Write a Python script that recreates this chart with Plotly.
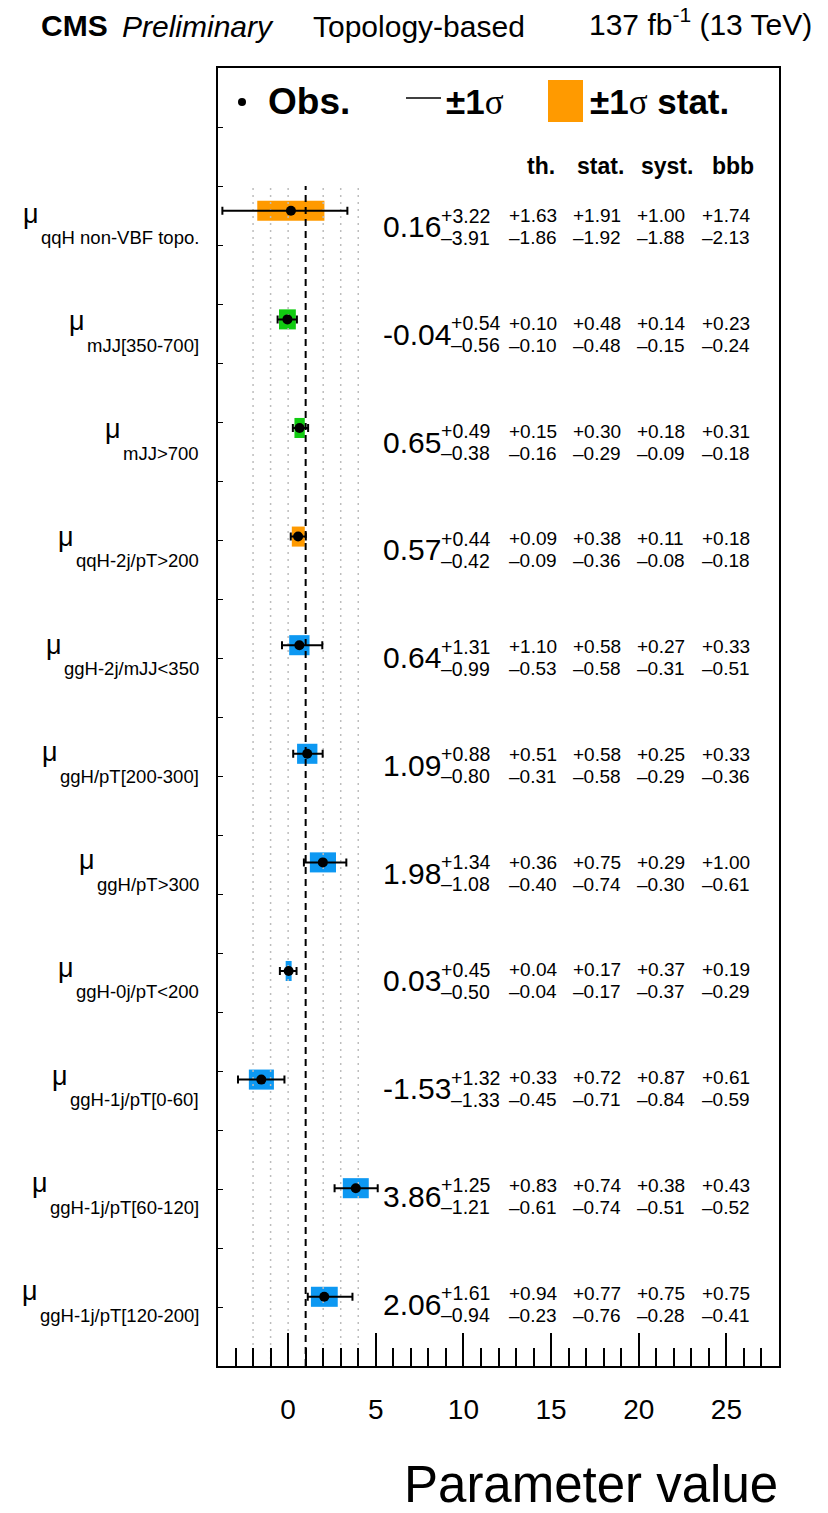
import plotly.graph_objects as go

# ---------------------------------------------------------------- data
labels = [
    "qqH non-VBF topo.", "mJJ[350-700]", "mJJ>700", "qqH-2j/pT>200",
    "ggH-2j/mJJ<350", "ggH/pT[200-300]", "ggH/pT>300", "ggH-0j/pT<200",
    "ggH-1j/pT[0-60]", "ggH-1j/pT[60-120]", "ggH-1j/pT[120-200]",
]
best = [0.16, -0.04, 0.65, 0.57, 0.64, 1.09, 1.98, 0.03, -1.53, 3.86, 2.06]
tot_hi = [3.22, 0.54, 0.49, 0.44, 1.31, 0.88, 1.34, 0.45, 1.32, 1.25, 1.61]
tot_lo = [3.91, 0.56, 0.38, 0.42, 0.99, 0.80, 1.08, 0.50, 1.33, 1.21, 0.94]
th_hi = [1.63, 0.10, 0.15, 0.09, 1.10, 0.51, 0.36, 0.04, 0.33, 0.83, 0.94]
th_lo = [1.86, 0.10, 0.16, 0.09, 0.53, 0.31, 0.40, 0.04, 0.45, 0.61, 0.23]
stat_hi = [1.91, 0.48, 0.30, 0.38, 0.58, 0.58, 0.75, 0.17, 0.72, 0.74, 0.77]
stat_lo = [1.92, 0.48, 0.29, 0.36, 0.58, 0.58, 0.74, 0.17, 0.71, 0.74, 0.76]
syst_hi = [1.00, 0.14, 0.18, 0.11, 0.27, 0.25, 0.29, 0.37, 0.87, 0.38, 0.75]
syst_lo = [1.88, 0.15, 0.09, 0.08, 0.31, 0.29, 0.30, 0.37, 0.84, 0.51, 0.28]
bbb_hi = [1.74, 0.23, 0.31, 0.18, 0.33, 0.33, 1.00, 0.19, 0.61, 0.43, 0.75]
bbb_lo = [2.13, 0.24, 0.18, 0.18, 0.51, 0.36, 0.61, 0.29, 0.59, 0.52, 0.41]
production = ["qqH", "VBF", "VBF", "qqH", "ggH", "ggH", "ggH",
              "ggH", "ggH", "ggH", "ggH"]
column_heads = ["th.", "stat.", "syst.", "bbb"]
x_ticks = [0, 5, 10, 15, 20, 25]
grid_values = [-2, -1, 0, 2, 3, 4]
sm_value = 1

colour_of = {"qqH": "#ff9a00", "VBF": "#11cc11", "ggH": "#0d98f2"}

# ---------------------------------------------------------------- geometry
W, H = 828, 1513
L, R, T, B = 218, 49, 68, 147
PW, PH = W - L - R, H - T - B
Y_RANGE = 22.0

FONT = "Liberation Sans, Arial, Helvetica, sans-serif"
SERIF = "Liberation Serif, Times New Roman, serif"

# Arial / Helvetica advance widths (per 1000 em)
ADV = {c: 556 for c in "0123456789"}
ADV.update({".": 278, "-": 333, "+": 584, "\u2013": 556, " ": 278, "[": 278,
            "]": 278, "/": 278, "<": 584, ">": 584, "m": 833, "J": 500,
            "q": 556, "g": 556, "H": 722, "j": 222, "p": 556, "T": 611,
            "n": 556, "o": 556, "V": 667, "B": 667, "F": 611, "t": 278})


def text_width(s, size):
    return sum(ADV.get(c, 556) for c in s) * size / 1000.0


def xp(px):
    return (px - L) / PW


def yp(py):
    return (T + PH - py) / PH


n = len(labels)
# marker rows (y data units) and text rows (pixel centres)
y_rows = [19.58 - k * 1.8407 for k in range(n)]
text_rows = [215.7 + k * 107.75 for k in range(n)]

fig = go.Figure()

# stat. uncertainty boxes
fig.add_trace(go.Bar(
    orientation="h",
    y=y_rows,
    x=[h + l for h, l in zip(stat_hi, stat_lo)],
    base=[b - l for b, l in zip(best, stat_lo)],
    width=0.34,
    marker=dict(color=[colour_of[p] for p in production], line=dict(width=0)),
    hoverinfo="skip",
))

# dotted reference lines and the dashed SM line
for g in grid_values:
    fig.add_trace(go.Scatter(
        x=[g, g], y=[0, 20], mode="lines",
        line=dict(color="#bdbdbd", width=1.5, dash="2px,5px"),
        hoverinfo="skip",
    ))
fig.add_trace(go.Scatter(
    x=[sm_value, sm_value], y=[0, 20], mode="lines",
    line=dict(color="black", width=2, dash="7px,5px"),
    hoverinfo="skip",
))

# observed values with total uncertainty
fig.add_trace(go.Scatter(
    x=best, y=y_rows, mode="markers",
    marker=dict(size=10, color="black"),
    error_x=dict(type="data", symmetric=False, array=tot_hi,
                 arrayminus=tot_lo, color="black", thickness=2, width=4),
    hoverinfo="skip",
))

ann = []


def add_text(px, py, text, size, anchor="left", bold=False, italic=False,
             family=FONT):
    if bold:
        text = "<b>" + text + "</b>"
    if italic:
        text = "<i>" + text + "</i>"
    ann.append(dict(
        x=xp(px), y=yp(py), xref="paper", yref="paper", text=text,
        showarrow=False, xanchor=anchor, yanchor="middle",
        font=dict(family=family, size=size, color="black"),
    ))


def fmt_up(v):
    return "+%.2f" % v


def fmt_dn(v):
    return "\u2013%.2f" % v


BIG, SMALL, SUB = 30, 19, 18.5
col_left = [509, 573, 637, 702]

for k in range(n):
    ty = text_rows[k]
    # left label: mu with subscript
    add_text(201, ty + 22, labels[k], SUB, anchor="right")
    mu_right = 201 - text_width(labels[k], SUB) - 2
    add_text(mu_right, ty - 2, "\u03bc", 27, anchor="right")
    # best fit value with total uncertainty
    vs = "%.2f" % best[k]
    add_text(381, ty + 11, vs, BIG)
    sx = 381 + text_width(vs, BIG)
    add_text(sx, ty, fmt_up(tot_hi[k]), 19.5)
    add_text(sx, ty + 22, fmt_dn(tot_lo[k]), 19.5)
    # breakdown columns
    for j, (hi, lo) in enumerate([(th_hi, th_lo), (stat_hi, stat_lo),
                                  (syst_hi, syst_lo), (bbb_hi, bbb_lo)]):
        add_text(col_left[j] - 2, ty, fmt_up(hi[k]), SMALL)
        add_text(col_left[j] - 2, ty + 22, fmt_dn(lo[k]), SMALL)

# column headings
for head, cx in zip(column_heads, [541, 600, 667, 733]):
    add_text(cx, 166, head, 23, anchor="center", bold=True)

# legend
sigma = "<span style='font-family:%s;font-weight:normal'>\u03c3</span>" % SERIF
add_text(266, 102, "Obs.", 37, bold=True)
add_text(444, 102, "<b>\u00b11</b>" + sigma, 35)
add_text(588, 102, "<b>\u00b11</b>" + sigma + "<b> stat.</b>", 35)

shapes = [
    dict(type="circle", xref="paper", yref="paper",
         x0=xp(238), x1=xp(246), y0=yp(98), y1=yp(106),
         fillcolor="black", line=dict(width=0)),
    dict(type="line", xref="paper", yref="paper",
         x0=xp(406), x1=xp(441), y0=yp(98), y1=yp(98),
         line=dict(color="black", width=1.5)),
    dict(type="rect", xref="paper", yref="paper",
         x0=xp(548), x1=xp(583), y0=yp(122), y1=yp(80),
         fillcolor=colour_of["qqH"], line=dict(width=0)),
]

# header
add_text(39, 25, "CMS", 30, bold=True)
add_text(120, 27, "Preliminary", 30, italic=True)
add_text(311, 27, "Topology-based", 30)
add_text(814, 22, "137 fb<sup>-1</sup> (13 TeV)", 30, anchor="right")

# axis title
add_text(780, 1484, "Parameter value", 51, anchor="right")

fig.update_layout(
    width=W, height=H,
    margin=dict(l=L, r=R, t=T, b=B, pad=0),
    paper_bgcolor="white", plot_bgcolor="white",
    showlegend=False,
    font=dict(family=FONT, color="black"),
    annotations=ann, shapes=shapes,
    xaxis=dict(
        range=[-4, 28], tickvals=x_ticks, ticks="inside", ticklen=33,
        tickwidth=1.5, tickcolor="black", showgrid=False, zeroline=False,
        showline=True, linecolor="black", linewidth=2, mirror=True,
        tickfont=dict(size=28, family=FONT, color="black"),
        ticklabelstandoff=17,
        minor=dict(dtick=1, tick0=0, ticks="inside", ticklen=18,
                   tickwidth=1.5, tickcolor="black", showgrid=False),
    ),
    yaxis=dict(
        range=[0, Y_RANGE], dtick=1, tick0=0, ticks="inside", ticklen=5,
        tickwidth=1, tickcolor="black", showticklabels=False,
        showgrid=False, zeroline=False, showline=True, linecolor="black",
        linewidth=2, mirror=True,
    ),
)

fig.write_html("out.html")
